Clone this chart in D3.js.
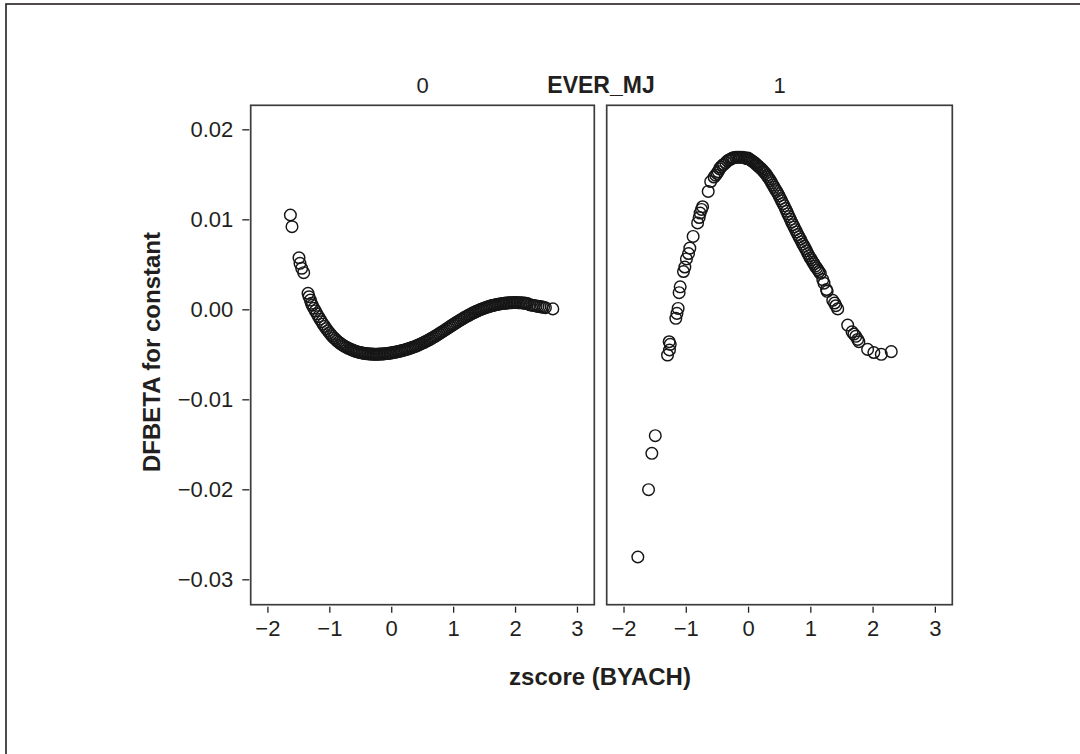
<!DOCTYPE html>
<html>
<head>
<meta charset="utf-8">
<script src="https://cdn.jsdelivr.net/npm/d3@7/dist/d3.min.js"></script>
<style>
  html, body { margin: 0; padding: 0; background: #fff; }
  svg { display: block; }
  text { font-family: "Liberation Sans", Arial, Helvetica, sans-serif; fill: #231f20; }
</style>
</head>
<body>
<svg id="chart" width="1080" height="754"></svg>
<script>
// ---------------- DATA ----------------
const panelLabels = ["0", "1"];
const facetTitle = "EVER_MJ";
const xTitle = "zscore (BYACH)";
const yTitle = "DFBETA for constant";
const xTicks = [-2, -1, 0, 1, 2, 3];
const xTickLabels = ["\u22122", "\u22121", "0", "1", "2", "3"];
const yTicks = [0.02, 0.01, 0.00, -0.01, -0.02, -0.03];
const yTickLabels = ["0.02", "0.01", "0.00", "\u22120.01", "\u22120.02", "\u22120.03"];

// EVER_MJ = 0
const leftX = [
  -1.629, -1.603, -1.49, -1.474, -1.446, -1.414, -1.344, -1.328, -1.306, -1.29,
  -1.275, -1.25, -1.225, -1.2, -1.175, -1.15, -1.125, -1.1, -1.075, -1.05,
  -1.025, -1.0, -0.975, -0.95, -0.925, -0.9, -0.875, -0.85, -0.825, -0.8,
  -0.775, -0.75, -0.725, -0.7, -0.675, -0.65, -0.625, -0.6, -0.575, -0.55,
  -0.525, -0.5, -0.475, -0.45, -0.425, -0.4, -0.375, -0.35, -0.325, -0.3,
  -0.275, -0.25, -0.225, -0.2, -0.175, -0.15, -0.125, -0.1, -0.075, -0.05,
  -0.025, 0.0, 0.025, 0.05, 0.075, 0.1, 0.125, 0.15, 0.175, 0.2,
  0.225, 0.25, 0.275, 0.3, 0.325, 0.35, 0.375, 0.4, 0.425, 0.45,
  0.475, 0.5, 0.525, 0.55, 0.575, 0.6, 0.625, 0.65, 0.675, 0.7,
  0.725, 0.75, 0.775, 0.8, 0.825, 0.85, 0.875, 0.9, 0.925, 0.95,
  0.975, 1.0, 1.025, 1.05, 1.075, 1.1, 1.125, 1.15, 1.175, 1.2,
  1.225, 1.25, 1.275, 1.3, 1.325, 1.35, 1.375, 1.4, 1.425, 1.45,
  1.475, 1.5, 1.525, 1.55, 1.575, 1.6, 1.625, 1.65, 1.675, 1.7,
  1.725, 1.75, 1.775, 1.8, 1.825, 1.85, 1.875, 1.9, 1.925, 1.95,
  1.975, 2.0, 2.025, 2.05, 2.075, 2.1, 2.125, 2.15, 2.175, 2.2,
  2.24, 2.28, 2.31, 2.34, 2.37, 2.40, 2.43, 2.46, 2.49, 2.61
];
const leftY = [
  0.01048, 0.00918, 0.00573, 0.00511, 0.00456, 0.00407, 0.00178, 0.00140, 0.00103, 0.00067,
  0.00045, 0.00012, -0.00018, -0.00050, -0.00080, -0.00110, -0.00138, -0.00165, -0.00190, -0.00215,
  -0.00238, -0.00260, -0.00280, -0.00300, -0.00318, -0.00335, -0.00350, -0.00365, -0.00378, -0.00390,
  -0.00401, -0.00412, -0.00421, -0.00430, -0.00438, -0.00446, -0.00453, -0.00460, -0.00466, -0.00471,
  -0.00476, -0.00480, -0.00484, -0.00487, -0.00490, -0.00492, -0.00494, -0.00496, -0.00497, -0.00498,
  -0.00499, -0.00499, -0.00499, -0.00498, -0.00497, -0.00496, -0.00495, -0.00493, -0.00491, -0.00489,
  -0.00487, -0.00484, -0.00481, -0.00478, -0.00475, -0.00471, -0.00467, -0.00463, -0.00459, -0.00454,
  -0.00449, -0.00444, -0.00439, -0.00433, -0.00427, -0.00421, -0.00415, -0.00408, -0.00401, -0.00393,
  -0.00385, -0.00377, -0.00369, -0.00360, -0.00351, -0.00342, -0.00333, -0.00323, -0.00313, -0.00303,
  -0.00293, -0.00282, -0.00271, -0.00260, -0.00249, -0.00238, -0.00227, -0.00215, -0.00204, -0.00192,
  -0.00181, -0.00170, -0.00159, -0.00148, -0.00137, -0.00126, -0.00115, -0.00105, -0.00095, -0.00085,
  -0.00075, -0.00066, -0.00057, -0.00048, -0.00039, -0.00031, -0.00023, -0.00015, -0.00007, 0.00000,
  0.00007, 0.00013, 0.00019, 0.00025, 0.00031, 0.00036, 0.00041, 0.00045, 0.00049, 0.00053,
  0.00057, 0.00060, 0.00063, 0.00065, 0.00067, 0.00069, 0.00071, 0.00072, 0.00073, 0.00074,
  0.00075, 0.00075, 0.00075, 0.00074, 0.00073, 0.00072, 0.00071, 0.00069, 0.00067, 0.00065,
  0.00050, 0.00045, 0.00042, 0.00038, 0.00033, 0.00030, 0.00027, 0.00022, 0.00018, 0.00005
];

// EVER_MJ = 1
const rightX = [
  -1.77, -1.598, -1.545, -1.49, -1.293, -1.262, -1.25, -1.267,
  -1.16, -1.142, -1.123, -1.107, -1.09, -1.037, -1.015, -0.99, -0.956, -0.935,
  -0.882, -0.81, -0.785, -0.77, -0.748, -0.73, -0.64, -0.6,
  -0.546, -0.52, -0.5, -0.48, -0.458, -0.44, -0.41, -0.39, -0.357, -0.33,
  -0.304, -0.28, -0.25, -0.23, -0.196, -0.17, -0.143, -0.12, -0.089, -0.06, -0.036, -0.02,
  0.0, 0.02, 0.04, 0.06, 0.08, 0.10, 0.12, 0.14, 0.16, 0.18,
  0.20, 0.22, 0.24, 0.26, 0.28, 0.30, 0.32, 0.34, 0.36, 0.38,
  0.40, 0.42, 0.44, 0.46, 0.48, 0.50, 0.52, 0.54, 0.56, 0.58,
  0.60, 0.62, 0.64, 0.66, 0.68, 0.70, 0.72, 0.74, 0.76, 0.78,
  0.80, 0.82, 0.84, 0.86, 0.88, 0.90, 0.92, 0.94, 0.96, 0.98,
  1.00, 1.02, 1.04, 1.06, 1.08, 1.10, 1.12, 1.14, 1.16,
  1.20, 1.22, 1.26, 1.27, 1.36, 1.39, 1.41, 1.44,
  1.60, 1.67, 1.70, 1.73, 1.76, 1.78, 1.92, 2.02, 2.14, 2.30
];
const rightY = [
  -0.02752, -0.02004, -0.01600, -0.01404, -0.00508, -0.00452, -0.00389, -0.00360,
  -0.00100, -0.00045, 0.00010, 0.00185, 0.00250, 0.00420, 0.00470, 0.00560, 0.00620, 0.00680,
  0.00810, 0.00960, 0.01020, 0.01070, 0.01110, 0.01140, 0.01310, 0.01420,
  0.01470, 0.01490, 0.01510, 0.01530, 0.01560, 0.01580, 0.01600, 0.01610, 0.01630, 0.01650,
  0.01660, 0.01670, 0.01680, 0.01685, 0.01690, 0.01690, 0.01690, 0.01690, 0.01690, 0.01685, 0.01680, 0.01675,
  0.01680, 0.01670, 0.01660, 0.01650, 0.01640, 0.01630, 0.01620, 0.01605, 0.01595, 0.01580,
  0.01570, 0.01555, 0.01540, 0.01525, 0.01510, 0.01490, 0.01470, 0.01450, 0.01430, 0.01405,
  0.01380, 0.01355, 0.01330, 0.01310, 0.01285, 0.01260, 0.01230, 0.01205, 0.01175, 0.01150,
  0.01120, 0.01090, 0.01060, 0.01030, 0.01000, 0.00970, 0.00940, 0.00915, 0.00885, 0.00860,
  0.00830, 0.00805, 0.00780, 0.00750, 0.00725, 0.00700, 0.00675, 0.00650, 0.00620, 0.00595,
  0.00570, 0.00550, 0.00525, 0.00505, 0.00480, 0.00460, 0.00440, 0.00420, 0.00400,
  0.00330, 0.00290, 0.00220, 0.00200, 0.00100, 0.00070, 0.00040, 0.00005,
  -0.00175, -0.00250, -0.00275, -0.00300, -0.00335, -0.00360, -0.00445, -0.00480, -0.00500, -0.00470
];

// ---------------- DRAW ----------------
const svg = d3.select("#chart");

// outer border (only top/left visible in the picture)
svg.append("rect").attr("x", 6).attr("y", 4).attr("width", 1100).attr("height", 800)
  .attr("fill", "none").attr("stroke", "#231f20").attr("stroke-width", 1.6);

const plotTop = 105.3, plotBottom = 604.7;
const panels = [
  { label: panelLabels[0], x0: 250.7, x1: 594.3, xs: leftX, ys: leftY },
  { label: panelLabels[1], x0: 606.7, x1: 952.3, xs: rightX, ys: rightY }
];
const xDomain = [-2.27, 3.28];
const y = d3.scaleLinear().domain([-0.03282, 0.02267]).range([plotBottom, plotTop]);

panels.forEach((p, i) => {
  const x = d3.scaleLinear().domain(xDomain).range([p.x0, p.x1]);
  const g = svg.append("g");

  // points
  const pts = p.xs.map((v, k) => [v, p.ys[k]]);
  g.selectAll("circle").data(pts).enter().append("circle")
    .attr("cx", d => x(d[0])).attr("cy", d => y(d[1])).attr("r", 5.8)
    .attr("fill", "none").attr("stroke", "#161616").attr("stroke-width", 1.45);

  // frame
  g.append("rect").attr("x", p.x0).attr("y", plotTop)
    .attr("width", p.x1 - p.x0).attr("height", plotBottom - plotTop)
    .attr("fill", "none").attr("stroke", "#3c3c3c").attr("stroke-width", 1.7);

  // x axis
  const xa = d3.axisBottom(x).tickValues(xTicks).tickSize(6).tickPadding(8)
    .tickFormat((d, k) => xTickLabels[k]);
  const gx = svg.append("g").attr("transform", `translate(0,${plotBottom + 2})`).call(xa);
  gx.select(".domain").remove();
  gx.selectAll(".tick line").attr("stroke", "#231f20").attr("stroke-width", 1.3);
  gx.selectAll(".tick text").attr("font-size", 22).attr("fill", "#231f20")
    .attr("font-family", "'Liberation Sans', Arial, sans-serif");

  // strip label
  svg.append("text").attr("x", (p.x0 + p.x1) / 2).attr("y", 93)
    .attr("text-anchor", "middle").attr("font-size", 22).text(p.label);
});

// y axis
const ya = d3.axisLeft(y).tickValues(yTicks).tickSize(7).tickPadding(9)
  .tickFormat((d, k) => yTickLabels[k]);
const gy = svg.append("g").attr("transform", `translate(249.3,0)`).call(ya);
gy.select(".domain").remove();
gy.selectAll(".tick line").attr("stroke", "#231f20").attr("stroke-width", 1.3);
gy.selectAll(".tick text").attr("font-size", 22).attr("fill", "#231f20")
  .attr("font-family", "'Liberation Sans', Arial, sans-serif");

// facet title
svg.append("text").attr("x", 601).attr("y", 93).attr("text-anchor", "middle")
  .attr("font-size", 23).attr("font-weight", "bold").text(facetTitle);

// axis titles
svg.append("text").attr("x", 600).attr("y", 685).attr("text-anchor", "middle")
  .attr("font-size", 24).attr("font-weight", "bold").text(xTitle);
svg.append("text").attr("transform", "translate(160,352) rotate(-90)")
  .attr("text-anchor", "middle").attr("font-size", 24).attr("font-weight", "bold").text(yTitle);
</script>
</body>
</html>
